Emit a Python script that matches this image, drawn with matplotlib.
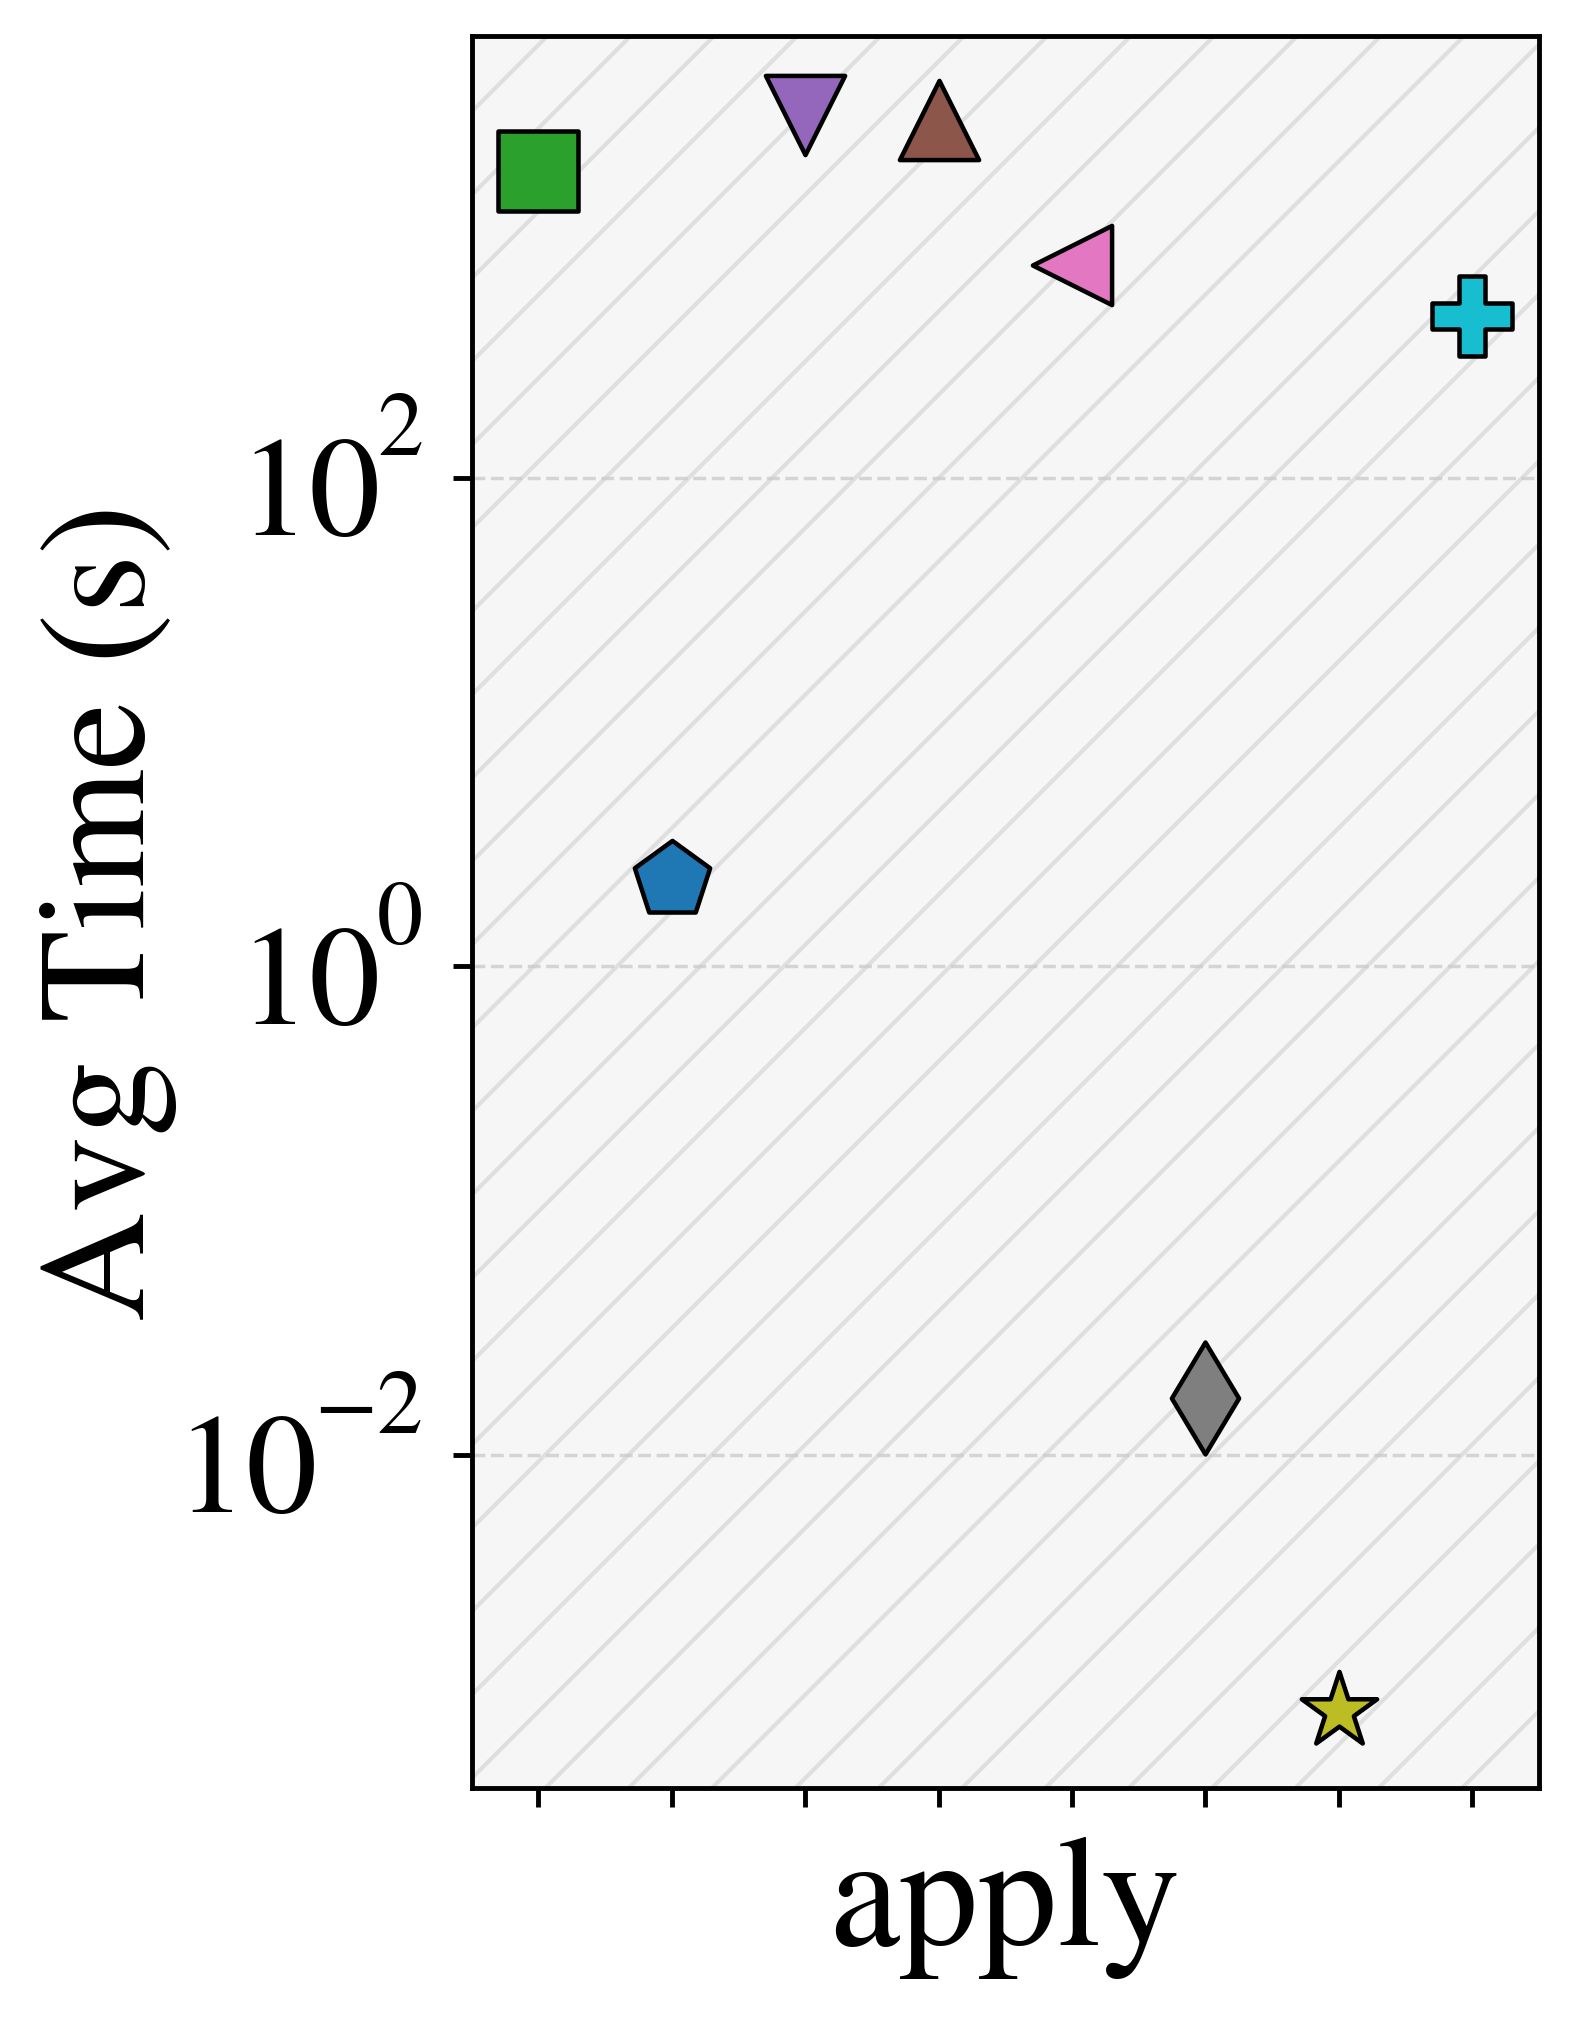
import matplotlib
matplotlib.use("Agg")
import numpy as np
import matplotlib.pyplot as plt
from matplotlib.patches import Rectangle
from matplotlib.ticker import NullLocator
from matplotlib.transforms import offset_copy

# dane
metody = ["m0", "m1", "m2", "m3", "m4", "m5", "m6", "m7"]
czasy = [1800, 2.25, 3050, 2910, 745, 0.0171, 0.000895, 460]
markery = ["s", "p", "v", "^", "<", "d", "*", "P"]
kolory = ["tab:green", "tab:blue", "tab:purple", "tab:brown",
          "tab:pink", "tab:gray", "tab:olive", "tab:cyan"]
wykladniki = [-2, 0, 2]
etykieta_x = "apply"
etykieta_y = "Avg Time (s)"

plt.rcParams["font.family"] = ["STIXGeneral", "DejaVu Serif"]
plt.rcParams["mathtext.fontset"] = "stix"
plt.rcParams["font.size"] = 44.5
plt.rcParams["hatch.linewidth"] = 1.2

DPI = 250
fig = plt.figure(figsize=(1578 / DPI, 2023 / DPI), dpi=DPI)
ax = fig.add_axes([0.299, 0.116, 0.676, 0.866])

# tło z kreskowaniem
ax.set_facecolor("#f6f6f6")
ax.add_patch(Rectangle((0, 0), 1, 1, transform=ax.transAxes, facecolor="#f6f6f6",
                       edgecolor="#dfdfdf", hatch="/", lw=0, zorder=0))

x = np.arange(len(metody))
for xi, y, m, c in zip(x, czasy, markery, kolory):
    ax.scatter(xi, y, marker=m, s=22.8**2, color=c, edgecolors="black",
               linewidths=1.3, zorder=3)

ax.set_yscale("log")
ax.set_ylim(4.33e-4, 6.4e3)
ax.set_xlim(-0.5, 7.5)
yticks = [10.0**w for w in wykladniki]
ax.set_yticks(yticks)
ax.set_yticklabels([])
ax.yaxis.set_minor_locator(NullLocator())
ax.set_xticks(x)
ax.set_xticklabels([])

ax.set_axisbelow(True)
ax.yaxis.grid(True, linestyle="--", color="#cccccc", linewidth=1.0, alpha=0.8)

for sp in ax.spines.values():
    sp.set_linewidth(1.4)
ax.tick_params(axis="both", length=5.5, width=1.4)

ax.set_xlabel(etykieta_x, fontsize=45.5, labelpad=5)
ax.set_ylabel(etykieta_y, fontsize=43.7)
ax.yaxis.set_label_coords(-0.2765, 0.5)

# etykiety 10^k jak w LaTeX-u: wykładnik mocno podniesiony
fig.canvas.draw()
rend = fig.canvas.get_renderer()
tr = ax.get_yaxis_transform()
for v, w in zip(yticks, wykladniki):
    s = str(w).replace("-", "\u2212")
    t_exp = ax.text(0, v, s, fontsize=26.5, ha="right", va="baseline",
                    transform=offset_copy(tr, fig, x=-14.0, y=6.5, units="points"))
    szer = t_exp.get_window_extent(rend).width * 72 / DPI
    ax.text(0, v, "10", fontsize=41, ha="right", va="baseline",
            transform=offset_copy(tr, fig, x=-14.0 - szer + 1.0, y=-16.5, units="points"))

fig.savefig("out.png", dpi=DPI)
